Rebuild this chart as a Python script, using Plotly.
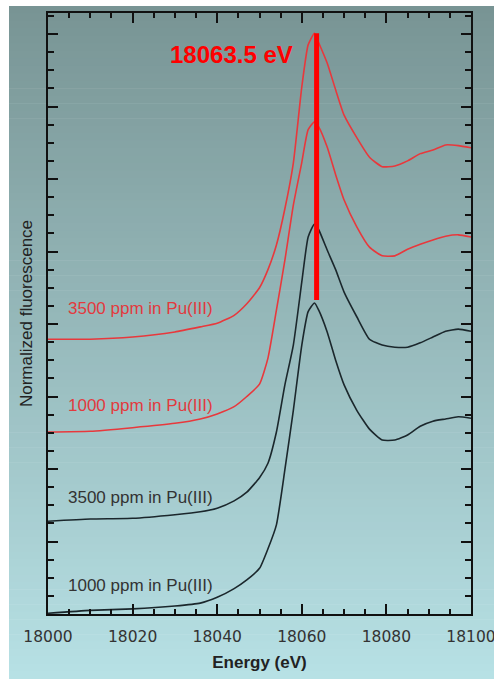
import plotly.graph_objects as go

# ---------------- data ----------------
energy = [18000, 18010, 18020, 18030, 18036, 18040, 18044, 18047, 18050, 18052,
          18054, 18056, 18058, 18060, 18061.5, 18063, 18064, 18066, 18068, 18070,
          18073, 18076, 18079, 18082, 18085, 18088, 18091, 18094, 18097, 18100]

black_1000 = [0.01, 0.05, 0.07, 0.11, 0.15, 0.23, 0.35, 0.47, 0.63, 0.90,
              1.23, 1.99, 2.81, 3.71, 4.17, 4.29, 4.19, 3.89, 3.50, 3.16,
              2.81, 2.55, 2.40, 2.40, 2.47, 2.59, 2.66, 2.69, 2.72, 2.70]

black_3500 = [1.28, 1.31, 1.32, 1.37, 1.41, 1.46, 1.56, 1.68, 1.88, 2.08,
              2.51, 3.16, 3.71, 4.58, 5.20, 5.38, 5.30, 5.02, 4.75, 4.44,
              4.10, 3.79, 3.71, 3.68, 3.68, 3.74, 3.82, 3.90, 3.93, 3.90]

red_1000 = [2.51, 2.52, 2.57, 2.63, 2.69, 2.76, 2.86, 3.00, 3.17, 3.53,
            4.19, 4.88, 5.64, 6.23, 6.68, 6.79, 6.72, 6.44, 6.06, 5.71,
            5.34, 5.06, 4.94, 4.94, 5.03, 5.10, 5.16, 5.21, 5.23, 5.20]

red_3500 = [3.79, 3.79, 3.82, 3.89, 3.96, 4.01, 4.12, 4.28, 4.50, 4.75,
            5.09, 5.59, 6.22, 7.27, 7.85, 8.01, 7.88, 7.60, 7.23, 6.88,
            6.57, 6.30, 6.17, 6.18, 6.25, 6.35, 6.40, 6.47, 6.46, 6.43]

peak_energy = [18063.5, 18063.5]
peak_span = [8.01, 4.33]
peak_label = "18063.5 eV"

curve_labels = ["3500 ppm in Pu(III)", "1000 ppm in Pu(III)",
                "3500 ppm in Pu(III)", "1000 ppm in Pu(III)"]
label_y = [4.21, 2.87, 1.61, 0.40]
label_colors = ["#e23a3e", "#e23a3e", "#333333", "#333333"]

x_ticks = [18000, 18020, 18040, 18060, 18080, 18100]

# ---------------- figure ----------------
W, H = 494, 679
L, R, T, B = 48, 23, 13, 65
pw, ph = W - L - R, H - T - B
YMAX = ph / 72.5

RED = "#e8383c"
BLACK = "#1b272c"

fig = go.Figure()
for ys, col in [(black_1000, BLACK), (black_3500, BLACK), (red_1000, RED), (red_3500, RED)]:
    fig.add_trace(go.Scatter(x=energy, y=ys, mode="lines",
                             line=dict(color=col, width=1.6, shape="spline", smoothing=0.5),
                             hoverinfo="skip"))

fig.add_trace(go.Scatter(x=peak_energy, y=peak_span, mode="lines",
                         line=dict(color="#ff0000", width=5), hoverinfo="skip"))
# invisible trace to activate mirrored (top/right) tick axes
fig.add_trace(go.Scatter(x=[18000], y=[0], xaxis="x2", yaxis="y2", mode="markers",
                         marker=dict(opacity=0), hoverinfo="skip"))

# gradient background panel
shapes = []
n = 90
top_c = (120, 148, 148)
bot_c = (183, 225, 229)
py0, py1 = 6, H
px0, px1 = 9, W
for i in range(n):
    a = py0 + (py1 - py0) * i / n
    b = py0 + (py1 - py0) * (i + 1) / n + 0.6
    t = (i + 0.5) / n
    c = tuple(int(round(top_c[k] + (bot_c[k] - top_c[k]) * t)) for k in range(3))
    shapes.append(dict(type="rect", xref="paper", yref="paper", layer="below",
                       x0=(px0 - L) / pw, x1=(px1 - L) / pw,
                       y0=(H - B - b) / ph, y1=(H - B - a) / ph,
                       fillcolor="rgb(%d,%d,%d)" % c, line=dict(width=0)))

annotations = [dict(x=18058.4, y=7.72, xref="x", yref="y", text="<b>" + peak_label + "</b>",
                    showarrow=False, xanchor="right", yanchor="middle",
                    font=dict(family="Liberation Sans", size=24, color="#ff0000"))]
for txt, yy, col in zip(curve_labels, label_y, label_colors):
    annotations.append(dict(x=18004.3, y=yy, xref="x", yref="y", text=txt,
                            showarrow=False, xanchor="left", yanchor="middle",
                            font=dict(family="Liberation Sans", size=17, color=col)))

tick_common = dict(ticks="inside", ticklen=10, tickwidth=1.5, tickcolor="#111",
                   showgrid=False, zeroline=False, automargin=False)
xminor = dict(dtick=5, tick0=18000, ticks="inside", ticklen=5, tickwidth=1.5,
              tickcolor="#111", showgrid=False)
yminor = dict(dtick=0.25, tick0=0, ticks="inside", ticklen=6, tickwidth=1.5,
              tickcolor="#111", showgrid=False)

fig.update_layout(
    width=W, height=H,
    margin=dict(l=L, r=R, t=T, b=B, pad=0, autoexpand=False),
    paper_bgcolor="white",
    plot_bgcolor="rgba(0,0,0,0)",
    showlegend=False,
    shapes=shapes,
    annotations=annotations,
    xaxis=dict(range=[18000, 18100], tickvals=x_ticks, tickformat="d",
               ticklabeloverflow="allow", ticklabelstandoff=7,
               showline=True, linecolor="#111", linewidth=2, minor=xminor,
               tickfont=dict(family="DejaVu Sans", size=15.5, color="#333"),
               title=dict(text="<b>Energy (eV)</b>", standoff=12,
                          font=dict(family="Liberation Sans", size=17, color="#222")),
               **tick_common),
    xaxis2=dict(range=[18000, 18100], tickvals=x_ticks, overlaying="x", side="top",
                showticklabels=False, showline=True, linecolor="#111", linewidth=2,
                minor=xminor, anchor="y", **tick_common),
    yaxis=dict(range=[0, YMAX], dtick=1, tick0=0, showline=True, linecolor="#111",
               linewidth=2, showticklabels=False, minor=yminor,
               title=dict(text="Normalized fluorescence", standoff=9,
                          font=dict(family="Liberation Sans", size=17, color="#222")),
               **tick_common),
    yaxis2=dict(range=[0, YMAX], dtick=1, tick0=0, overlaying="y", side="right",
                showticklabels=False, showline=True, linecolor="#111", linewidth=2,
                minor=yminor, anchor="x", **tick_common),
)

fig.write_html("out.html")
